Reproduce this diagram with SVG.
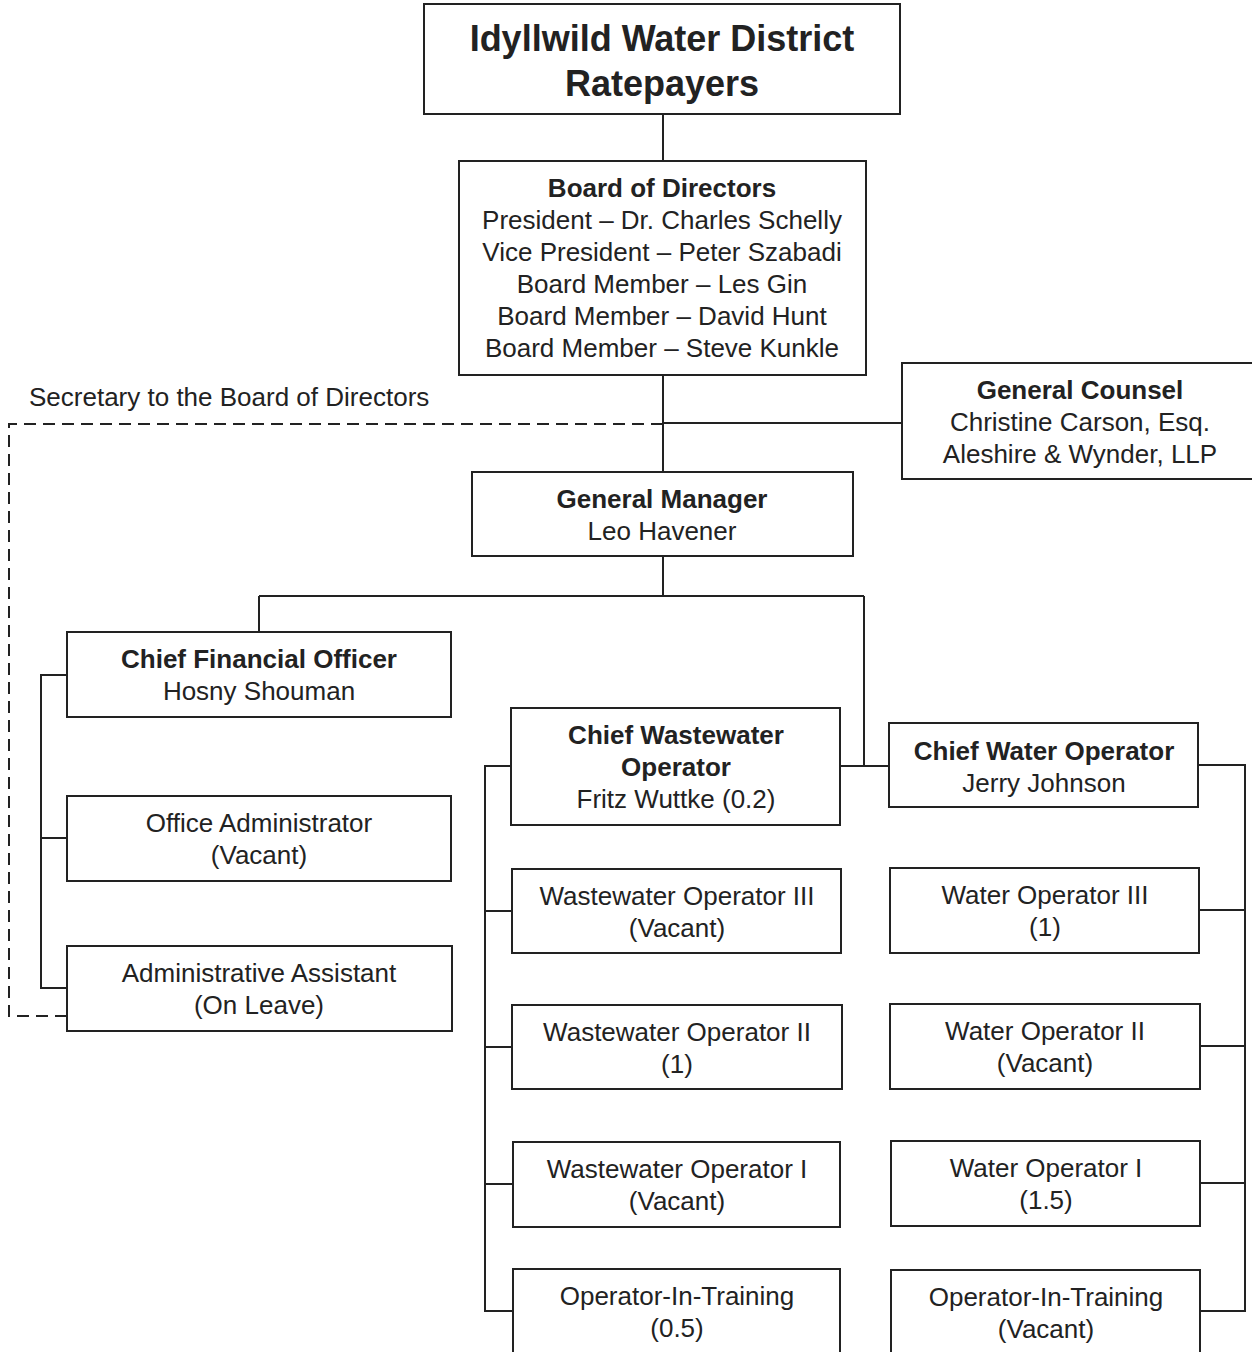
<svg xmlns="http://www.w3.org/2000/svg" width="1252" height="1352" viewBox="0 0 1252 1352">
<style>
.box{fill:#fff;stroke:#222;stroke-width:2}
.ln{fill:none;stroke:#222;stroke-width:2}
.dash{fill:none;stroke:#222;stroke-width:2;stroke-dasharray:12 7}
text{font-family:"Liberation Sans",Arial,sans-serif;font-size:26px;fill:#222;text-anchor:middle}
.b{font-weight:bold}
.t{font-size:36px;font-weight:bold}
</style>
<rect width="1252" height="1352" fill="#fff"/>
<g id="connectors">
<path class="ln" d="M663,114V161"/>
<path class="ln" d="M663,375V472"/>
<path class="ln" d="M663,423H902"/>
<path class="dash" d="M663,424H9V1016H67"/>
<path class="ln" d="M663,556V596M259,596H864M259,596V632M864,596V766M840,766H889"/>
<path class="ln" d="M67,675H41V988H67M41,838H67"/>
<path class="ln" d="M511,766H485V1311H513M485,911H512M485,1047H512M485,1184H513"/>
<path class="ln" d="M1198,765H1245V1311H1200M1245,910H1199M1245,1046H1200M1245,1183H1200"/>
</g>
<g id="ratepayers"><rect class="box" x="424" y="4" width="476" height="110"/>
<text class="t" x="662" y="51">Idyllwild Water District</text><text class="t" x="662" y="96">Ratepayers</text></g>
<g id="board"><rect class="box" x="459" y="161" width="407" height="214"/>
<text class="b" x="662" y="197">Board of Directors</text>
<text x="662" y="229">President – Dr. Charles Schelly</text>
<text x="662" y="261">Vice President – Peter Szabadi</text>
<text x="662" y="293">Board Member – Les Gin</text>
<text x="662" y="325">Board Member – David Hunt</text>
<text x="662" y="357">Board Member – Steve Kunkle</text></g>
<g id="secretary"><text x="29" y="406" style="text-anchor:start">Secretary to the Board of Directors</text></g>
<g id="counsel"><rect class="box" x="902" y="363" width="352" height="116"/>
<text class="b" x="1080" y="399">General Counsel</text>
<text x="1080" y="431">Christine Carson, Esq.</text>
<text x="1080" y="463">Aleshire &amp; Wynder, LLP</text></g>
<g id="gm"><rect class="box" x="472" y="472" width="381" height="84"/>
<text class="b" x="662" y="508">General Manager</text><text x="662" y="540">Leo Havener</text></g>
<g id="cfo"><rect class="box" x="67" y="632" width="384" height="85"/>
<text class="b" x="259" y="668">Chief Financial Officer</text><text x="259" y="700">Hosny Shouman</text></g>
<g id="office-admin"><rect class="box" x="67" y="796" width="384" height="85"/>
<text x="259" y="832">Office Administrator</text><text x="259" y="864">(Vacant)</text></g>
<g id="admin-assistant"><rect class="box" x="67" y="946" width="385" height="85"/>
<text x="259" y="982">Administrative Assistant</text><text x="259" y="1014">(On Leave)</text></g>
<g id="chief-ww"><rect class="box" x="511" y="708" width="329" height="117"/>
<text class="b" x="676" y="744">Chief Wastewater</text><text class="b" x="676" y="776">Operator</text><text x="676" y="808">Fritz Wuttke (0.2)</text></g>
<g id="chief-water"><rect class="box" x="889" y="723" width="309" height="84"/>
<text class="b" x="1044" y="760">Chief Water Operator</text><text x="1044" y="792">Jerry Johnson</text></g>
<g id="ww3"><rect class="box" x="512" y="869" width="329" height="84"/>
<text x="677" y="905">Wastewater Operator III</text><text x="677" y="937">(Vacant)</text></g>
<g id="ww2"><rect class="box" x="512" y="1005" width="330" height="84"/>
<text x="677" y="1041">Wastewater Operator II</text><text x="677" y="1073">(1)</text></g>
<g id="ww1"><rect class="box" x="513" y="1142" width="327" height="85"/>
<text x="677" y="1178">Wastewater Operator I</text><text x="677" y="1210">(Vacant)</text></g>
<g id="ww-oit"><rect class="box" x="513" y="1269" width="327" height="95"/>
<text x="677" y="1305">Operator-In-Training</text><text x="677" y="1337">(0.5)</text></g>
<g id="w3"><rect class="box" x="890" y="868" width="309" height="85"/>
<text x="1045" y="904">Water Operator III</text><text x="1045" y="936">(1)</text></g>
<g id="w2"><rect class="box" x="890" y="1004" width="310" height="85"/>
<text x="1045" y="1040">Water Operator II</text><text x="1045" y="1072">(Vacant)</text></g>
<g id="w1"><rect class="box" x="891" y="1141" width="309" height="85"/>
<text x="1046" y="1177">Water Operator I</text><text x="1046" y="1209">(1.5)</text></g>
<g id="w-oit"><rect class="box" x="891" y="1270" width="309" height="95"/>
<text x="1046" y="1306">Operator-In-Training</text><text x="1046" y="1338">(Vacant)</text></g>
</svg>
